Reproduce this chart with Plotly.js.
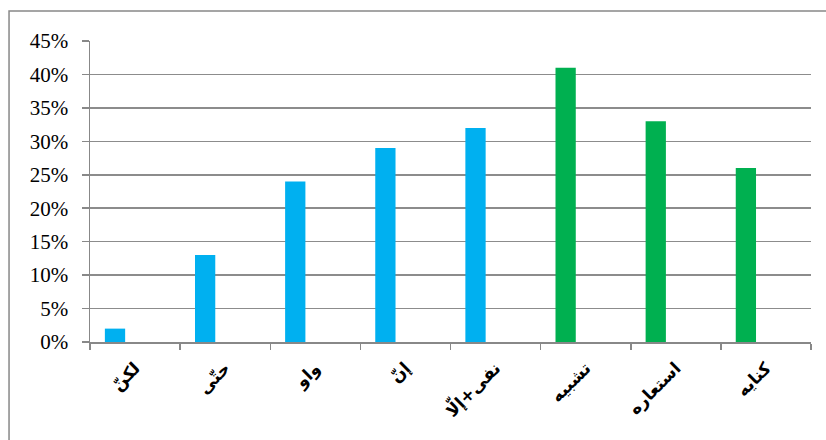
<!DOCTYPE html>
<html>
<head>
<meta charset="utf-8">
<script src="https://cdn.plot.ly/plotly-3.0.1.min.js"></script>
<style>html,body{margin:0;padding:0;background:#fff;}#chart{width:826px;height:440px;}</style>
</head>
<body>
<div id="chart"></div>
<script>
var categories = ["لکنّ", "حتّی", "واو", "إنّ", "نفی+إلّا", "تشبیه", "استعاره", "کنایه"];
var values = [0.02, 0.13, 0.24, 0.29, 0.32, 0.41, 0.33, 0.26];
var groups = ["a", "a", "a", "a", "a", "b", "b", "b"];
var groupColors = {a: "#00B0F0", b: "#00B050"};
var yTickValues = [0, 0.05, 0.10, 0.15, 0.20, 0.25, 0.30, 0.35, 0.40, 0.45];
var yTickLabels = ["0%", "5%", "10%", "15%", "20%", "25%", "30%", "35%", "40%", "45%"];

var trace = {
  type: "bar",
  x: categories,
  y: values,
  width: 0.225,
  offset: -0.335,
  marker: {color: groups.map(function(g){ return groupColors[g]; })},
  hoverinfo: "x+y"
};

var layout = {
  width: 826,
  height: 440,
  margin: {l: 90, r: 15, t: 41, b: 98},
  paper_bgcolor: "#ffffff",
  plot_bgcolor: "#ffffff",
  showlegend: false,
  font: {family: "Liberation Serif", size: 21, color: "#000000"},
  xaxis: {
    type: "category",
    showline: true,
    linecolor: "#888888",
    linewidth: 1.5,
    ticks: "outside",
    tickson: "boundaries",
    ticklen: 6,
    tickcolor: "#888888",
    tickwidth: 1.5,
    tickangle: -45,
    ticklabelstandoff: 8,
    tickfont: {family: "DejaVu Sans", size: 17, color: "#000000", weight: "bold"},
    showgrid: false
  },
  yaxis: {
    range: [0, 0.45],
    tickmode: "array",
    tickvals: yTickValues,
    ticktext: yTickLabels,
    showline: true,
    linecolor: "#888888",
    linewidth: 1.5,
    ticks: "outside",
    ticklen: 7,
    tickcolor: "#888888",
    tickwidth: 1.5,
    ticklabelstandoff: 9,
    showgrid: true,
    gridcolor: "#8c8c8c",
    gridwidth: 1.5,
    zeroline: false,
    tickfont: {family: "Liberation Serif", size: 21, color: "#000000"}
  },
  shapes: [{
    type: "rect", xref: "paper", yref: "paper",
    x0: -0.1123, x1: 1.03, y0: -0.35, y1: 1.0997,
    line: {color: "#888888", width: 1.5},
    fillcolor: "rgba(0,0,0,0)",
    layer: "below"
  }]
};

Plotly.newPlot("chart", [trace], layout, {displayModeBar: false, staticPlot: true});
</script>
</body>
</html>
